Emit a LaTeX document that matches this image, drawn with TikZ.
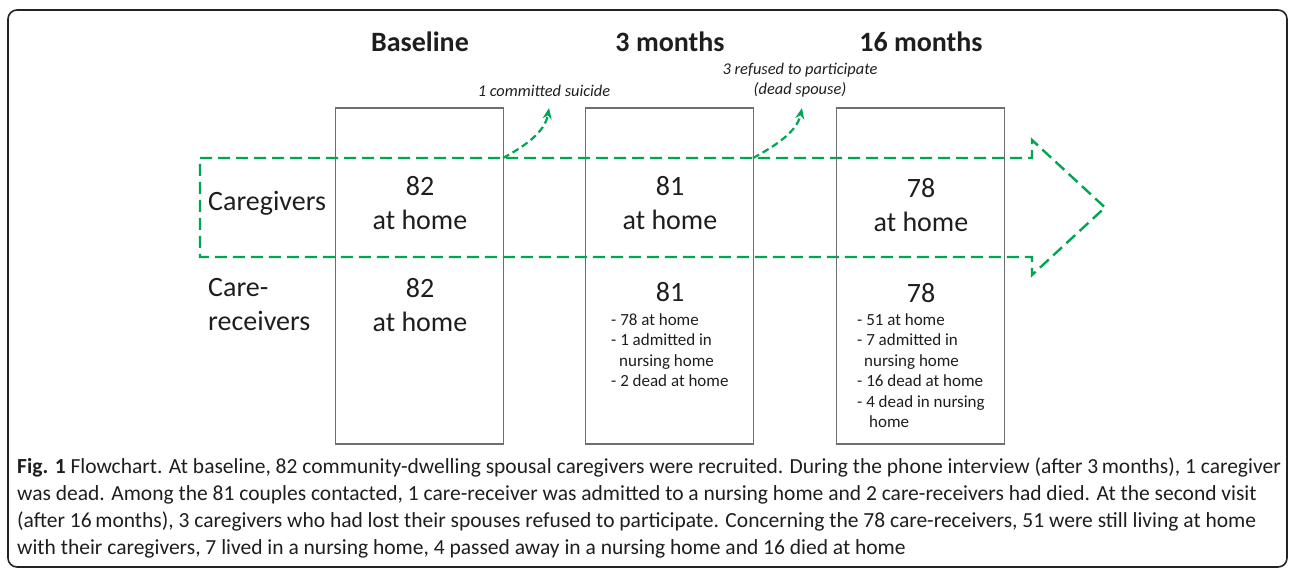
\documentclass[tikz,border=0pt]{standalone}
\usepackage{fontspec}
\setmainfont{Carlito}
\usetikzlibrary{arrows.meta}
\definecolor{grn}{RGB}{0,166,81}
\definecolor{boxgray}{RGB}{110,110,110}
\definecolor{framec}{RGB}{35,35,35}
\definecolor{txt}{RGB}{30,30,30}
\begin{document}
\begin{tikzpicture}[x=1pt,y=-1pt,
  colbox/.style={draw=boxgray, line width=1.1pt, minimum width=168pt, minimum height=336pt, inner sep=0pt},
  big/.style={font=\fontsize{28}{34}\selectfont, text=txt, align=center, inner sep=0pt},
  rowlab/.style={font=\fontsize{28}{34}\selectfont, text=txt, align=left, inner sep=0pt, anchor=west},
  title/.style={font=\fontsize{28}{34}\selectfont\bfseries, text=txt, inner sep=0pt},
  listtxt/.style={font=\fontsize{17}{20.5}\selectfont, text=txt, align=left, inner sep=0pt, anchor=north west},
  lab/.style={font=\fontsize{16.4}{20}\selectfont\itshape, text=txt, align=center, inner sep=0pt},
  flow/.style={draw=grn, line width=2.4pt, dash pattern=on 12pt off 6pt},
  exitarrow/.style={draw=grn, line width=2.2pt, dash pattern=on 7pt off 4pt, -{Stealth[length=11pt,width=9pt,fill=grn]}},
  captxt/.style={font=\fontsize{21.5}{27}\selectfont, text=txt, align=left, inner sep=0pt, anchor=north west}
]
\useasboundingbox (0,0) rectangle (1295,575);
\draw[framec, line width=1.6pt, rounded corners=9pt] (8,10) rectangle (1287,567);

% big dashed arrow
\draw[flow, line join=miter] (200,158) -- (1032,158) -- (1032,140) -- (1105,207.5) -- (1032,275) -- (1032,257) -- (200,257) -- cycle;

% boxes
\node[colbox] (b1) at (419.5,276) {};
\node[colbox] (b2) at (669.5,276) {};
\node[colbox] (b3) at (920.5,276) {};

% titles
\node[title] (t1) at (420,42) {Baseline};
\node[title] (t2) at (670,42) {3 months};
\node[title] (t3) at (921,42) {16 months};

% row labels
\node[rowlab] (r1) at (208,203) {Caregivers};
\node[rowlab] (r2) at (208,305) {Care-\\receivers};

% caregivers
\node[big] (c1) at (420,203) {82\\at home};
\node[big] (c2) at (670,203) {81\\at home};
\node[big] (c3) at (921,205) {78\\at home};

% care-receivers
\node[big] (d1) at (420,305) {82\\at home};
\node[big] (d2) at (670,292) {81};
\node[big] (d3) at (921,293) {78};
\node[listtxt] (l2) at (611,313) {- 78 at home\\- 1 admitted in\\\hspace*{8pt}nursing home\\- 2 dead at home};
\node[listtxt] (l3) at (857,313) {- 51 at home\\- 7 admitted in\\\hspace*{7pt}nursing home\\- 16 dead at home\\- 4 dead in nursing\\\hspace*{12pt}home};

% exits
\coordinate (e1s) at (503,158);
\coordinate (e2s) at (753,158);
\node[lab] (x1) at (544,91) {1 committed suicide};
\node[lab] (x2) at (800,80.5) {3 refused to participate\\(dead spouse)};
\coordinate (e1e) at (549,108);
\coordinate (e2e) at (802,108);
\draw[exitarrow] (e1s) .. controls (525,146) and (545,132) .. (e1e);
\draw[exitarrow] (e2s) .. controls (775,146) and (797,132) .. (e2e);

% caption
\node[captxt] (cap) at (17,458) {\textbf{Fig. 1} Flowchart. At baseline, 82 community-dwelling spousal caregivers were recruited. During the phone interview (after 3\,months), 1 caregiver\\was dead. Among the 81 couples contacted, 1 care-receiver was admitted to a nursing home and 2 care-receivers had died. At the second visit\\(after 16\,months), 3 caregivers who had lost their spouses refused to participate. Concerning the 78 care-receivers, 51 were still living at home\\with their caregivers, 7 lived in a nursing home, 4 passed away in a nursing home and 16 died at home};
\end{tikzpicture}
\end{document}
